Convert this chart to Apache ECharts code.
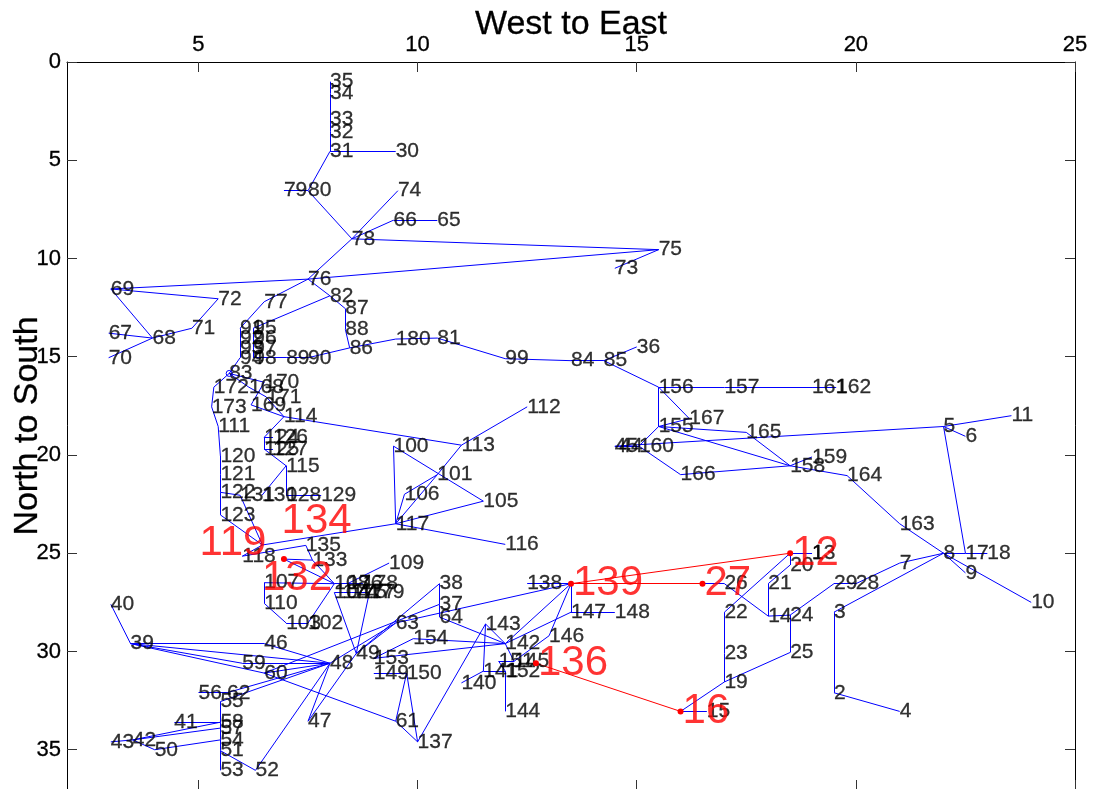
<!DOCTYPE html>
<html>
<head>
<meta charset="utf-8">
<script src="https://cdn.jsdelivr.net/npm/echarts@6/dist/echarts.min.js"></script>
<style>
html, body { margin: 0; padding: 0; background: #ffffff; }
#chart { width: 1094px; height: 789px; }
</style>
</head>
<body>
<div id="chart"></div>
<script>
// Station coordinates, indexed by station number - 1 (km east, km south)
const nodeX = [
  19.0, 19.5, 19.5, 21.0, 22.0, 22.5, 21.0, 22.0, 22.5, 24.0,   // 1-10
  23.55, 18.5, 19.0, 18.0, 16.6, 16.0, 22.5, 23.0, 17.0, 18.5,  // 11-20
  18.0, 17.0, 17.0, 18.5, 18.5, 17.0, 16.5, 20.0, 19.5, 9.5,    // 21-30
  8.0, 8.0, 8.0, 8.0, 8.0, 15.0, 10.5, 10.5, 3.45, 3.0,         // 31-40
  4.45, 3.5, 3.0, 14.6, 14.5, 6.5, 7.5, 8.0, 8.6, 4.0,          // 41-50
  5.5, 6.3, 5.5, 5.5, 5.5, 5.0, 5.5, 5.5, 6.0, 6.5,             // 51-60
  9.5, 5.65, 9.5, 10.5, 10.45, 9.45, 2.95, 3.95, 3.0, 2.95,     // 61-70
  4.85, 5.45, 14.5, 9.55, 15.5, 7.5, 6.5, 8.5, 6.95, 7.5,       // 71-80
  10.45, 8.0, 5.7, 13.5, 14.25, 8.45, 8.35, 8.35, 7.0, 7.5,     // 81-90
  5.95, 5.95, 5.95, 5.95, 6.25, 6.25, 6.25, 6.25, 12.0, 9.45,   // 91-100
  10.45, 7.5, 7.0, 8.1, 11.5, 9.7, 6.5, 8.1, 9.35, 6.5,         // 101-110
  5.45, 12.5, 11.0, 6.95, 7.0, 12.0, 9.5, 6.0, 6.46, 5.5,       // 111-120
  5.5, 5.5, 5.5, 6.5, 6.5, 6.7, 6.7, 7.0, 7.8, 6.45,            // 121-130
  5.95, 6.95, 7.6, 6.85, 7.45, 12.7, 10.0, 12.5, 13.5, 11.0,    // 131-140
  11.5, 12.0, 11.55, 12.0, 12.2, 13.0, 13.5, 14.5, 9.0, 9.75,   // 141-150
  11.85, 12.0, 9.0, 9.9, 15.5, 15.5, 17.0, 18.5, 19.0, 15.05,   // 151-160
  19.0, 19.55, 21.0, 19.8, 17.5, 16.0, 16.2, 6.15, 6.2, 6.5,    // 161-170
  6.55, 5.35, 5.3, 8.3, 8.5, 8.4, 8.7, 8.75, 8.9, 9.5           // 171-180
];
const nodeY = [
  25.0, 32.1, 28.0, 33.05, 18.55, 19.05, 25.5, 25.0, 26.0, 27.5,  // 1-10
  18.0, 25.0, 25.0, 28.2, 33.05, 33.05, 25.0, 25.0, 31.55, 25.6,  // 11-20
  26.55, 28.0, 30.1, 28.15, 30.05, 26.55, 26.55, 26.55, 26.55, 4.55, // 21-30
  4.55, 3.55, 2.9, 1.6, 1.0, 14.5, 27.6, 26.55, 29.6, 27.6,      // 31-40
  33.6, 34.5, 34.6, 19.55, 19.55, 29.6, 33.55, 30.6, 30.1, 35.0,  // 41-50
  35.05, 36.05, 36.05, 34.5, 32.55, 32.1, 33.9, 33.6, 30.6, 31.1, // 51-60
  33.55, 32.1, 28.55, 28.25, 8.05, 8.05, 13.8, 14.05, 11.55, 15.05, // 61-70
  13.55, 12.05, 10.5, 6.55, 9.55, 11.05, 12.2, 9.0, 6.55, 6.55,  // 71-80
  14.05, 11.9, 15.85, 15.2, 15.2, 14.55, 12.55, 13.6, 15.05, 15.05, // 81-90
  13.55, 14.05, 14.55, 15.05, 13.55, 14.05, 14.55, 15.05, 15.1, 19.55, // 91-100
  21.0, 28.55, 28.55, 27.0, 22.35, 22.0, 26.5, 26.55, 25.5, 27.55, // 101-110
  18.55, 17.55, 19.5, 18.05, 20.55, 24.55, 23.5, 25.15, 24.58, 20.05, // 111-120
  21.0, 21.9, 23.05, 19.1, 19.7, 19.1, 19.7, 22.05, 22.05, 22.05, // 121-130
  22.05, 25.3, 25.35, 23.4, 24.6, 30.6, 34.6, 26.55, 26.55, 31.6, // 131-140
  31.0, 29.6, 28.6, 33.05, 30.5, 29.2, 28.0, 28.0, 31.1, 31.1,    // 141-150
  30.5, 31.0, 30.35, 29.35, 18.55, 16.55, 16.55, 20.55, 20.1, 19.55, // 151-160
  16.55, 16.55, 23.5, 21.05, 18.85, 21.0, 18.15, 16.55, 17.45, 16.3, // 161-170
  17.05, 16.55, 17.55, 27.0, 27.0, 26.55, 27.0, 26.55, 27.0, 14.1 // 171-180
];

// Network links (station pairs)
const linkFrom = [
  35, 34, 33, 32, 31, 31, 79, 80, 78, 78, 66, 78, 75, 78, 76, 76, 69, 72, 71, 69,
  67, 70, 76, 76, 82, 87, 88, 86, 180, 81, 99, 84, 85, 85, 156, 157, 161, 156, 156, 155,
  155, 165, 155, 155, 45, 160, 166, 158, 158, 164, 163, 5, 5, 5, 8, 17, 8, 8, 8, 7,
  28, 29, 8, 3, 2, 14, 24, 25, 19, 23, 22, 19, 16, 12, 12, 20, 21, 27, 26, 45,
  44, 82, 77, 91, 92, 93, 95, 96, 97, 94, 98, 89, 90, 83, 172, 173, 111, 120, 121, 122,
  123, 83, 83, 168, 170, 169, 171, 114, 113, 113, 101, 106, 100, 100, 105, 106, 117, 117, 114, 124,
  124, 125, 125, 115, 128, 131, 130, 115, 119, 118, 132, 107, 107, 133, 135, 109, 108, 176, 104, 174,
  175, 177, 179, 104, 110, 103, 102, 38, 37, 38, 60, 64, 139, 63, 138, 139, 147, 139, 143, 143,
  143, 140, 154, 153, 154, 149, 150, 150, 61, 60, 47, 47, 46, 39, 39, 39, 39, 46, 59, 60,
  56, 62, 55, 55, 58, 57, 54, 51, 51, 52, 41, 42, 42, 42, 50, 50, 142, 145, 151, 152,
  141, 146, 139, 147, 48, 132, 122
];
const linkTo = [
  34, 33, 32, 31, 30, 80, 80, 78, 74, 66, 65, 75, 73, 76, 75, 69, 72, 71, 68, 68,
  68, 68, 77, 82, 87, 88, 86, 180, 81, 99, 84, 85, 36, 156, 157, 161, 162, 155, 167, 167,
  165, 158, 158, 160, 5, 166, 158, 159, 164, 163, 8, 6, 11, 17, 17, 18, 9, 10, 7, 28,
  29, 24, 3, 2, 4, 24, 25, 19, 23, 22, 12, 16, 15, 13, 20, 21, 14, 26, 14, 44,
  160, 95, 91, 92, 93, 94, 96, 97, 98, 83, 89, 90, 86, 172, 173, 111, 120, 121, 122, 123,
  119, 168, 170, 171, 169, 114, 114, 113, 112, 101, 117, 101, 117, 105, 117, 117, 116, 119, 124, 126,
  125, 127, 115, 128, 129, 119, 115, 128, 118, 135, 133, 110, 108, 108, 133, 176, 176, 178, 174, 175,
  177, 179, 49, 49, 103, 102, 108, 37, 64, 49, 37, 142, 63, 49, 139, 147, 148, 146, 137, 142,
  141, 141, 142, 142, 153, 150, 61, 137, 137, 61, 48, 49, 39, 40, 48, 59, 60, 48, 48, 48,
  62, 48, 48, 58, 57, 54, 51, 53, 52, 48, 58, 43, 58, 57, 54, 42, 145, 151, 152, 144,
  152, 145, 142, 142, 63, 108, 131
];

// Highlighted route
const routeFrom = [12, 139, 136];
const routeTo = [139, 27, 16];
const routeStations = [119, 134, 132, 139, 27, 12, 136, 16];
const routeDots = [12, 139, 27, 136, 16, 132];
const markedStation = 83;

// Route labels that sit away from their station to stay readable
const labelShift = { 119: [-65, -2], 132: [-24, 19] };

const xTicks = [5, 10, 15, 20, 25];
const yTicks = [0, 5, 10, 15, 20, 25, 30, 35];

const pt = id => [nodeX[id - 1], nodeY[id - 1]];

const blueLinks = linkFrom.map((a, i) => ({ coords: [pt(a), pt(linkTo[i])] }));
const redLinks = routeFrom.map((a, i) => ({ coords: [pt(a), pt(routeTo[i])] }));

const plainLabels = [];
for (let id = 1; id <= nodeX.length; id++) {
  if (routeStations.indexOf(id) >= 0) continue;
  plainLabels.push({ name: String(id), value: pt(id) });
}
const routeLabels = routeStations.map(id => {
  const item = { name: String(id), value: pt(id) };
  if (labelShift[id]) item.label = { offset: labelShift[id] };
  return item;
});
const dotPoints = routeDots.map(pt);

const font = "'Liberation Sans', Arial, Helvetica, sans-serif";

const chart = echarts.init(document.getElementById('chart'), null, { renderer: 'canvas' });

const tickStyle = { show: true, inside: true, length: 10, lineStyle: { color: '#333', width: 1 } };
const darkText = { color: '#000', textBorderColor: '#000', textBorderWidth: 0.3 };

chart.setOption({
  animation: false,
  backgroundColor: '#ffffff',
  grid: { left: 67, right: 19, top: 62, bottom: -1, containLabel: false, outerBoundsMode: 'none' },
  xAxis: [
    {
      type: 'value', position: 'top', min: 2, max: 25,
      name: 'West to East', nameLocation: 'middle', nameGap: 20, nameMoveOverlap: false,
      nameTextStyle: Object.assign({ fontFamily: font, fontSize: 34 }, darkText),
      axisLine: { show: true, onZero: false, lineStyle: { color: '#000', width: 1 } },
      axisTick: Object.assign({ customValues: xTicks }, tickStyle),
      axisLabel: Object.assign({ customValues: xTicks, fontFamily: font, fontSize: 22, margin: 6 }, darkText),
      splitLine: { show: false }
    },
    {
      type: 'value', position: 'bottom', min: 2, max: 25,
      axisLine: { show: true, onZero: false, lineStyle: { color: '#000', width: 1 } },
      axisTick: Object.assign({ customValues: xTicks }, tickStyle),
      axisLabel: { show: false },
      splitLine: { show: false }
    }
  ],
  yAxis: [
    {
      type: 'value', position: 'left', inverse: true, min: 0, max: 37.05,
      name: 'North to South', nameLocation: 'middle', nameGap: 22, nameRotate: 90, nameMoveOverlap: false,
      nameTextStyle: Object.assign({ fontFamily: font, fontSize: 34 }, darkText),
      axisLine: { show: true, onZero: false, lineStyle: { color: '#000', width: 1 } },
      axisTick: Object.assign({ customValues: yTicks }, tickStyle),
      axisLabel: Object.assign({ customValues: yTicks, fontFamily: font, fontSize: 22, margin: 6 }, darkText),
      splitLine: { show: false }
    },
    {
      type: 'value', position: 'right', inverse: true, min: 0, max: 37.05,
      axisLine: { show: true, onZero: false, lineStyle: { color: '#000', width: 1 } },
      axisTick: Object.assign({ customValues: yTicks }, tickStyle),
      axisLabel: { show: false },
      splitLine: { show: false }
    }
  ],
  series: [
    {
      type: 'lines', coordinateSystem: 'cartesian2d', xAxisIndex: 0, yAxisIndex: 0,
      data: blueLinks, silent: true, z: 2,
      lineStyle: { color: '#0000ff', width: 1, opacity: 1 }
    },
    {
      type: 'lines', coordinateSystem: 'cartesian2d', xAxisIndex: 0, yAxisIndex: 0,
      data: redLinks, silent: true, z: 3,
      lineStyle: { color: '#ff0000', width: 1, opacity: 1 }
    },
    {
      type: 'scatter', xAxisIndex: 0, yAxisIndex: 0, data: plainLabels, z: 4,
      symbolSize: 0, silent: true,
      label: Object.assign({
        show: true, position: 'right', distance: 0, formatter: '{b}',
        fontFamily: font, fontSize: 21
      }, darkText)
    },
    {
      type: 'scatter', xAxisIndex: 0, yAxisIndex: 0, data: dotPoints, z: 5,
      symbolSize: 6, itemStyle: { color: '#ff0000', opacity: 1 }, silent: true
    },
    {
      type: 'scatter', xAxisIndex: 0, yAxisIndex: 0, data: routeLabels, z: 5,
      symbolSize: 0, silent: true,
      label: {
        show: true, position: 'right', distance: 2, formatter: '{b}',
        fontFamily: font, fontSize: 42, color: '#ff0000'
      }
    },
    {
      type: 'scatter', xAxisIndex: 0, yAxisIndex: 0, data: [pt(markedStation)], z: 5,
      symbol: 'circle', symbolSize: 6, silent: true,
      itemStyle: { color: 'none', borderColor: '#0000ff', borderWidth: 1, opacity: 1 }
    }
  ]
});
</script>
</body>
</html>
